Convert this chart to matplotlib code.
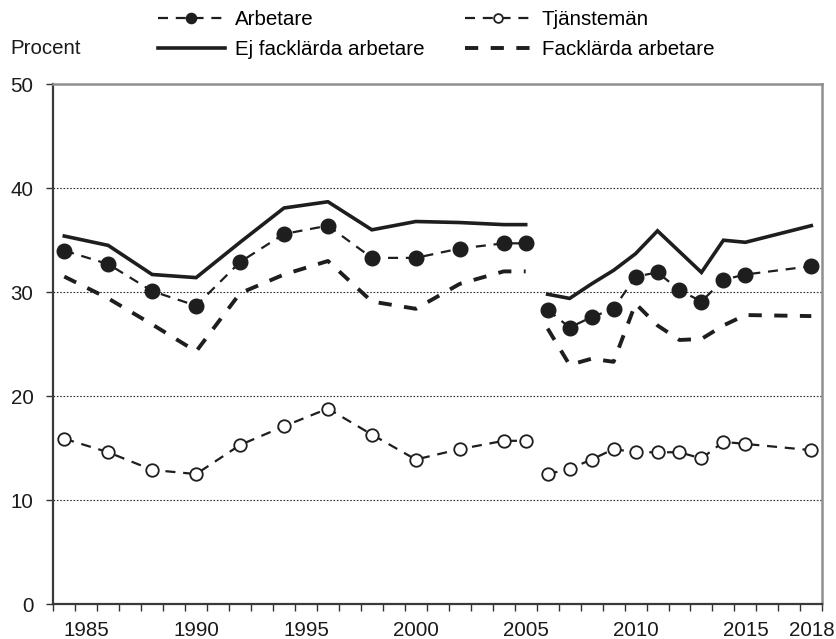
import matplotlib
matplotlib.use("Agg")
import matplotlib.pyplot as plt
import numpy as np

plt.rcParams['font.family'] = ['Liberation Sans', 'DejaVu Sans']

# ---- data ----
years_p1 = [1984, 1986, 1988, 1990, 1992, 1994, 1996, 1998, 2000, 2002, 2004, 2005]
years_p2 = [2006, 2007, 2008, 2009, 2010, 2011, 2012, 2013, 2014, 2015, 2018]

arbetare_p1 = [34.0, 32.7, 30.1, 28.7, 32.9, 35.6, 36.4, 33.3, 33.3, 34.2, 34.7, 34.7]
arbetare_p2 = [28.3, 26.6, 27.6, 28.4, 31.5, 31.9, 30.2, 29.1, 31.2, 31.7, 32.5]

tjansteman_p1 = [15.9, 14.6, 12.9, 12.5, 15.3, 17.1, 18.8, 16.3, 13.9, 14.9, 15.7, 15.7]
tjansteman_p2 = [12.5, 13.0, 13.9, 14.9, 14.6, 14.6, 14.6, 14.0, 15.6, 15.4, 14.8]

ejfack_p1 = [35.4, 34.5, 31.7, 31.4, 34.8, 38.1, 38.7, 36.0, 36.8, 36.7, 36.5, 36.5]
ejfack_p2 = [29.8, 29.4, 30.8, 32.1, 33.7, 35.9, 33.9, 31.9, 35.0, 34.8, 36.4]

fack_p1 = [31.5, 29.4, 26.9, 24.3, 29.9, 31.7, 33.0, 29.1, 28.4, 30.8, 32.0, 32.0]
fack_p2 = [26.5, 23.0, 23.6, 23.3, 28.9, 26.8, 25.4, 25.5, 26.8, 27.8, 27.7]

labels = ["Arbetare", "Ej facklärda arbetare", "Tjänstemän", "Facklärda arbetare"]
xtick_years = [1985, 1990, 1995, 2000, 2005, 2010, 2015, 2018]
yticks = [0, 10, 20, 30, 40, 50]

# ---- figure ----
W, H = 837, 639
fig = plt.figure(figsize=(W / 100, H / 100), dpi=100)
ax = fig.add_axes([53.3 / W, 1 - 604 / H, (822.3 - 53.3) / W, (604 - 84.3) / H])

col = '#1e1e1e'
fs = 14.8

# gridlines
for yv in yticks[1:-1]:
    ax.axhline(yv, color='#333333', lw=0.8, ls=(0, (1.5, 1.5)), zorder=1)

handles = {}
for yrs, vals_a, vals_t, vals_e, vals_f in [
        (years_p1, arbetare_p1, tjansteman_p1, ejfack_p1, fack_p1),
        (years_p2, arbetare_p2, tjansteman_p2, ejfack_p2, fack_p2)]:
    h_e, = ax.plot(yrs, vals_e, color=col, lw=2.6, ls='-', zorder=3,
                   solid_joinstyle='miter')
    h_f, = ax.plot(yrs, vals_f, color=col, lw=2.8, ls=(0, (3.4, 3.2)), zorder=3)
    h_a, = ax.plot(yrs, vals_a, color=col, lw=1.6, ls=(0, (4.5, 3.5)),
                   marker='o', ms=10.5, mfc=col, mec=col, zorder=4)
    h_t, = ax.plot(yrs, vals_t, color=col, lw=1.6, ls=(0, (4.5, 3.5)),
                   marker='o', ms=9, mfc='white', mec=col, mew=1.3, zorder=4)
    handles = {"Arbetare": h_a, "Tjänstemän": h_t,
               "Ej facklärda arbetare": h_e, "Facklärda arbetare": h_f}

ax.set_xlim(1983.5, 2018.5)
ax.set_ylim(0, 50)

ax.set_yticks(yticks)
ax.set_yticklabels([str(v) for v in yticks])
ax.tick_params(axis='y', length=4.8, width=1.0, pad=9.5, labelsize=fs,
               color='#333333', labelcolor='#1a1a1a')

ax.set_xticks(xtick_years)
ax.set_xticklabels([str(v) for v in xtick_years])
ax.set_xticks(np.arange(1983.5, 2019.0, 1.0), minor=True)
ax.tick_params(axis='x', which='major', length=0, pad=12, labelsize=fs,
               labelcolor='#1a1a1a')
ax.tick_params(axis='x', which='minor', length=5, width=1.0, color='#333333')

for s in ['left', 'bottom']:
    ax.spines[s].set_color('#3a3a3a')
    ax.spines[s].set_linewidth(1.6)
for s in ['top', 'right']:
    ax.spines[s].set_color('#8f8f8f')
    ax.spines[s].set_linewidth(1.8)

fig.text(10 / W, 1 - 48 / H, "Procent", fontsize=fs, va='center', ha='left',
         color='#1a1a1a')

leg = fig.legend([handles[l] for l in labels], labels, loc='upper left',
                 bbox_to_anchor=(158 / W, 1 - 10 / H), ncol=2, frameon=False,
                 borderpad=0, borderaxespad=0, handlelength=3.25,
                 handletextpad=0.5, columnspacing=1.95, labelspacing=0.55,
                 fontsize=fs, markerscale=0.7)

fig.savefig("out.png", dpi=100)
